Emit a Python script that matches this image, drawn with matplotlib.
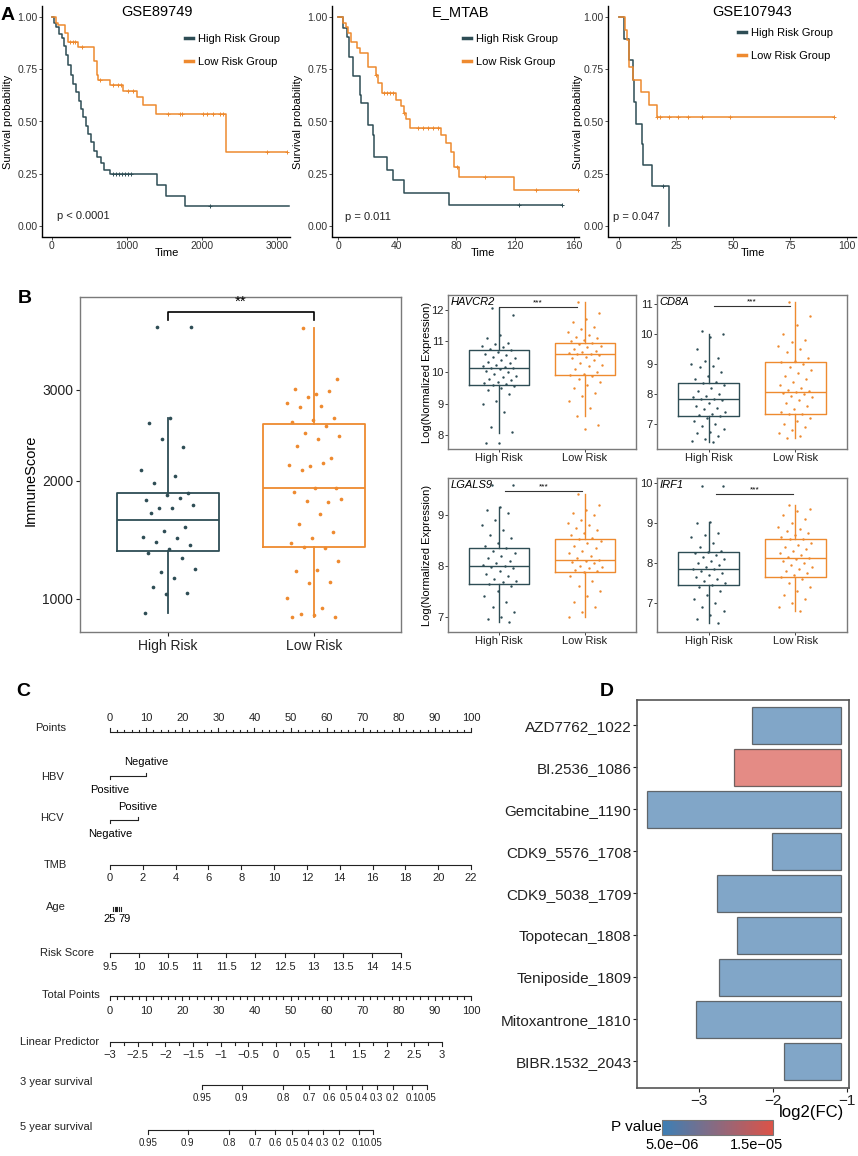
import numpy as np
import matplotlib
matplotlib.use("Agg")
import matplotlib.pyplot as plt
from matplotlib.colors import LinearSegmentedColormap, Normalize
from matplotlib.cm import ScalarMappable
from matplotlib.lines import Line2D

plt.rcParams['font.family'] = ['Liberation Sans', 'DejaVu Sans']

W, H = 858, 1156
TEAL = '#2E4D55'
ORANGE = '#EE8A2F'
INK = '#222222'
FRAME = '#7a7a7a'

# ---------------- panel A : Kaplan-Meier steps ----------------
gse89_hi_t = [0, 30, 60, 100, 130, 160, 190, 215, 250, 280, 320, 360, 390, 420, 450, 480,
              520, 560, 600, 650, 700, 780, 1400, 1520, 1773, 3160]
gse89_hi_s = [1.0, 0.97, 0.95, 0.92, 0.90, 0.86, 0.82, 0.77, 0.72, 0.68, 0.64, 0.60, 0.56, 0.52,
              0.48, 0.44, 0.40, 0.36, 0.33, 0.30, 0.27, 0.25, 0.196, 0.144, 0.096, 0.096]
gse89_hi_c = [820, 860, 900, 940, 980, 1020, 1060, 2107]
gse89_lo_t = [0, 50, 80, 173, 215, 350, 560, 595, 620, 773, 950, 1133, 1213, 1382, 2320, 3129]
gse89_lo_s = [1.0, 0.97, 0.96, 0.923, 0.88, 0.857, 0.79, 0.72, 0.70, 0.675, 0.647, 0.616,
              0.579, 0.536, 0.356, 0.356]
gse89_lo_c = [240, 280, 310, 400, 640, 818, 884, 916, 1018, 1084, 1551, 1707, 1729, 2017,
              2062, 2151, 2240, 2276, 2862, 3129]

emtab_hi_t = [0, 3.5, 6.3, 7.7, 10, 10.4, 15, 15.7, 20.2, 23.8, 24.3, 33, 37, 45, 75, 152]
emtab_hi_s = [1.0, 0.946, 0.903, 0.81, 0.766, 0.718, 0.627, 0.587, 0.483, 0.435, 0.33, 0.268,
              0.22, 0.158, 0.10, 0.10]
emtab_hi_c = [123, 152]
emtab_lo_t = [0, 3.5, 5.5, 7, 9, 12.6, 15, 20, 25.5, 27, 29.5, 39.5, 42.7, 44.5, 46, 48.5,
              69.5, 73.5, 76.5, 78.7, 82, 119, 163]
emtab_lo_s = [1.0, 0.97, 0.95, 0.922, 0.882, 0.85, 0.826, 0.762, 0.722, 0.683, 0.638, 0.603,
              0.574, 0.54, 0.51, 0.467, 0.435, 0.396, 0.356, 0.284, 0.233, 0.172, 0.172]
emtab_lo_c = [26, 31, 33, 35, 37, 45, 54, 57.6, 61, 64.4, 67.8, 81, 100, 134, 163]

gse107_hi_t = [0, 2.2, 4.5, 6, 6.6, 7.5, 10, 10.4, 14.3, 22]
gse107_hi_s = [1.0, 0.893, 0.794, 0.70, 0.595, 0.49, 0.39, 0.292, 0.19, 0.0]
gse107_hi_c = [19.3]
gse107_lo_t = [0, 2.6, 3.7, 4.5, 6, 9.5, 13.2, 16.8, 94.3]
gse107_lo_s = [1.0, 0.938, 0.89, 0.762, 0.70, 0.64, 0.579, 0.523, 0.523]
gse107_lo_c = [16.8, 18.2, 22, 26, 30.4, 36.3, 48.7, 94.3]

# ---------------- panel B : ImmuneScore ----------------
immune_hi = [3817, 3817, 2666, 2609, 2345, 2431, 2108, 2047, 1975, 1877, 1861, 1814, 1830,
             1737, 1767, 1742, 1696, 1571, 1536, 1484, 1475, 1442, 1414, 1381, 1351, 1305,
             1201, 1219, 1150, 1088, 1045, 1036, 902]
immune_lo = [3794, 3135, 2952, 3012, 2991, 2919, 2847, 2812, 2800, 2666, 2647, 2628, 2579,
             2497, 2471, 2435, 2362, 2234, 2152, 2158, 2176, 2108, 1932, 1926, 1893, 1792,
             1804, 1821, 1682, 1592, 1527, 1471, 1428, 1387, 1400, 1284, 1214, 1206, 1125,
             1118, 1005, 936, 898, 876, 891, 880]
# box stats: q1, median, q3, lower whisker, upper whisker
immune_box_hi = [1365, 1633, 1877, 902, 2666]
immune_box_lo = [1398, 1926, 2601, 876, 3794]

# ---------------- panel B : gene expression ----------------
havcr2_hi = [12.07, 11.85, 11.2, 11.1, 10.95, 10.9, 10.85, 10.8, 10.75, 10.71, 10.65, 10.6,
             10.55, 10.5, 10.45, 10.4, 10.35, 10.3, 10.25, 10.2, 10.18, 10.15, 10.14, 10.1,
             10.05, 10.0, 9.95, 9.9, 9.85, 9.8, 9.75, 9.7, 9.65, 9.62, 9.6, 9.58, 9.5, 9.45,
             9.3, 9.1, 9.0, 8.75, 8.27, 8.1, 7.75, 7.75]
havcr2_lo = [12.27, 11.9, 11.7, 11.6, 11.45, 11.4, 11.3, 11.2, 11.15, 11.1, 11.05, 11.0,
             10.95, 10.9, 10.85, 10.8, 10.75, 10.7, 10.65, 10.62, 10.6, 10.58, 10.55, 10.5,
             10.45, 10.4, 10.3, 10.25, 10.2, 10.1, 10.0, 9.95, 9.93, 9.9, 9.8, 9.7, 9.6, 9.5,
             9.35, 9.25, 9.1, 8.85, 8.61, 8.32, 8.2]
cd8a_hi = [10.1, 10.0, 9.9, 9.5, 9.2, 9.1, 9.0, 8.95, 8.9, 8.75, 8.6, 8.5, 8.4, 8.38, 8.3,
           8.2, 8.1, 8.0, 7.95, 7.9, 7.85, 7.82, 7.8, 7.7, 7.6, 7.55, 7.5, 7.4, 7.35, 7.3,
           7.27, 7.2, 7.1, 7.0, 6.95, 6.85, 6.75, 6.7, 6.6, 6.5, 6.45, 6.41]
cd8a_lo = [11.07, 10.6, 10.3, 10.0, 9.8, 9.75, 9.6, 9.5, 9.4, 9.2, 9.1, 9.08, 9.0, 8.9, 8.8,
           8.7, 8.6, 8.5, 8.4, 8.3, 8.2, 8.15, 8.1, 8.08, 8.05, 8.0, 7.95, 7.9, 7.8, 7.7,
           7.6, 7.5, 7.4, 7.35, 7.32, 7.2, 7.1, 7.0, 6.9, 6.8, 6.7, 6.6, 6.52]
lgals9_hi = [9.59, 9.59, 9.16, 9.1, 9.05, 8.9, 8.8, 8.7, 8.6, 8.55, 8.45, 8.4, 8.36, 8.3,
             8.25, 8.2, 8.15, 8.1, 8.05, 8.02, 8.0, 7.98, 7.95, 7.9, 7.85, 7.8, 7.75, 7.7,
             7.68, 7.65, 7.6, 7.5, 7.4, 7.3, 7.2, 7.1, 7.0, 6.95, 6.9]
lgals9_lo = [9.41, 9.2, 9.1, 9.05, 9.0, 8.9, 8.85, 8.8, 8.75, 8.7, 8.65, 8.6, 8.55, 8.52,
             8.5, 8.45, 8.4, 8.35, 8.3, 8.25, 8.2, 8.15, 8.12, 8.1, 8.08, 8.05, 8.0, 7.98,
             7.95, 7.92, 7.9, 7.88, 7.8, 7.7, 7.6, 7.5, 7.4, 7.3, 7.2, 7.1, 7.0]
irf1_hi = [9.92, 9.92, 9.03, 9.0, 8.75, 8.7, 8.65, 8.5, 8.4, 8.3, 8.27, 8.25, 8.2, 8.15,
           8.1, 8.05, 8.0, 7.95, 7.9, 7.85, 7.84, 7.8, 7.75, 7.7, 7.65, 7.6, 7.55, 7.5,
           7.45, 7.4, 7.3, 7.2, 7.1, 7.0, 6.9, 6.8, 6.7, 6.6, 6.5]
irf1_lo = [9.45, 9.35, 9.3, 9.2, 9.1, 9.0, 8.9, 8.85, 8.8, 8.75, 8.7, 8.65, 8.6, 8.59, 8.5,
           8.45, 8.4, 8.35, 8.3, 8.25, 8.2, 8.15, 8.12, 8.1, 8.05, 8.0, 7.95, 7.9, 7.85,
           7.8, 7.75, 7.7, 7.65, 7.6, 7.5, 7.4, 7.3, 7.2, 7.1, 7.0, 6.9, 6.8]
# q1, median, q3, lower whisker, upper whisker
havcr2_box = ([9.61, 10.14, 10.71, 8.06, 12.07], [9.93, 10.58, 10.95, 8.61, 12.27])
cd8a_box = ([7.27, 7.82, 8.38, 6.41, 10.0], [7.32, 8.08, 9.08, 6.52, 11.08])
lgals9_box = ([7.65, 8.0, 8.36, 6.9, 9.16], [7.88, 8.12, 8.52, 7.0, 9.41])
irf1_box = ([7.45, 7.84, 8.27, 6.5, 9.03], [7.65, 8.12, 8.59, 6.8, 9.45])

# ---------------- panel C : nomogram ----------------
points_ticks = list(range(0, 101, 10))
hbv_levels = ['Positive', 'Negative']
hbv_points = [0, 10]
hcv_levels = ['Negative', 'Positive']
hcv_points = [0, 7.8]
tmb_ticks = list(range(0, 23, 2))
tmb_pts_per_unit = 100 / 22
age_ticks = [25, 35, 45, 55, 65, 79]
age_pts_range = (0.9, 3.0)
risk_ticks = [9.5, 10, 10.5, 11, 11.5, 12, 12.5, 13, 13.5, 14, 14.5]
risk_pts_per_unit = 16.12
lp_ticks = [-3, -2.5, -2, -1.5, -1, -0.5, 0, 0.5, 1, 1.5, 2, 2.5, 3]
lp_pts_per_unit = 15.33
surv_ticks = [0.95, 0.9, 0.8, 0.7, 0.6, 0.5, 0.4, 0.3, 0.2, 0.1, 0.05]
cloglog_base_3y = -1.632
cloglog_base_5y = -0.657

# ---------------- panel D : drugs ----------------
drugs = ['AZD7762_1022', 'BI.2536_1086', 'Gemcitabine_1190', 'CDK9_5576_1708',
         'CDK9_5038_1709', 'Topotecan_1808', 'Teniposide_1809', 'Mitoxantrone_1810',
         'BIBR.1532_2043']
log2fc = [-2.28, -2.53, -3.70, -2.01, -2.76, -2.49, -2.73, -3.04, -1.85]
pvals = [4.6e-6, 1.65e-5, 4.6e-6, 4.6e-6, 4.6e-6, 4.6e-6, 4.6e-6, 4.6e-6, 4.6e-6]


fig = plt.figure(figsize=(W / 100, H / 100), dpi=100)


def px_axes(l, t, r, b):
    return fig.add_axes([l / W, 1 - b / H, (r - l) / W, (b - t) / H])


def ftext(x, y, s, **kw):
    kw.setdefault('ha', 'center')
    kw.setdefault('va', 'center')
    fig.text(x / W, 1 - y / H, s, **kw)


def jitter(n, w):
    return ((np.arange(n) * 0.6180339887 + 0.3) % 1.0 - 0.5) * 2 * w


# ---------- A ----------
def km_panel(box, xlim, xticks, hi, lo, ptxt, ppos, legpos):
    ax = px_axes(*box)
    for (t, s, c), col in ((hi, TEAL), (lo, ORANGE)):
        t = np.asarray(t, float)
        s = np.asarray(s, float)
        ax.step(t, s, where='post', color=col, lw=1.1)
        idx = np.searchsorted(t, c, side='right') - 1
        ax.plot(c, s[idx], ls='none', marker='+', ms=3.5, mew=0.7, color=col)
    ax.set_xlim(*xlim)
    ax.set_ylim(-0.05, 1.05)
    ax.set_xticks(xticks)
    ax.set_yticks([0, 0.25, 0.5, 0.75, 1.0])
    ax.set_yticklabels(['0.00', '0.25', '0.50', '0.75', '1.00'])
    for sp in ('top', 'right'):
        ax.spines[sp].set_visible(False)
    for sp in ('left', 'bottom'):
        ax.spines[sp].set_linewidth(1.0)
    ax.tick_params(labelsize=7.5, length=2, width=0.6, pad=1, colors='#333333')
    ax.text(ppos[0], ppos[1], ptxt, fontsize=8, ha='left', va='center', color=INK)
    hs = [Line2D([], [], color=TEAL, lw=2.5), Line2D([], [], color=ORANGE, lw=2.5)]
    ax.legend(hs, ['High Risk Group', 'Low Risk Group'], loc='upper left',
              bbox_to_anchor=(legpos[0] / W, 1 - legpos[1] / H),
              bbox_transform=fig.transFigure, frameon=False, fontsize=8,
              handlelength=0.7, handletextpad=0.5, labelspacing=1.2,
              borderpad=0, borderaxespad=0)
    return ax


km_panel((42, 6.5, 290, 236.5), (-133, 3173), [0, 1000, 2000, 3000],
         (gse89_hi_t, gse89_hi_s, gse89_hi_c), (gse89_lo_t, gse89_lo_s, gse89_lo_c),
         'p < 0.0001', (67, 0.048), (185, 34))
km_panel((332, 6.5, 579, 236.5), (-4.07, 163.4), [0, 40, 80, 120, 160],
         (emtab_hi_t, emtab_hi_s, emtab_hi_c), (emtab_lo_t, emtab_lo_s, emtab_lo_c),
         'p = 0.011', (5, 0.045), (463, 34))
km_panel((608, 6.5, 856, 236.5), (-4.8, 103.9), [0, 25, 50, 75, 100],
         (gse107_hi_t, gse107_hi_s, gse107_hi_c), (gse107_lo_t, gse107_lo_s, gse107_lo_c),
         'p = 0.047', (-2.5, 0.045), (738, 28))

for cx, title in ((157, 'GSE89749'), (460, 'E_MTAB'), (752, 'GSE107943')):
    ftext(cx, 12, title, fontsize=10.5)
for cx in (167, 483, 753):
    ftext(cx, 253, 'Time', fontsize=8)
for cx in (8, 298, 578):
    ftext(cx, 122, 'Survival probability', fontsize=8, rotation=90)
ftext(8, 15, 'A', fontsize=14, weight='bold')

# ---------- B : ImmuneScore ----------
def draw_boxes(ax, stats, width, lw):
    bx = []
    for q1, med, q3, lo, hi in stats:
        bx.append(dict(q1=q1, med=med, q3=q3, whislo=lo, whishi=hi, fliers=[]))
    art = ax.bxp(bx, positions=[1, 2], widths=width, showfliers=False, showcaps=False)
    for i, col in enumerate((TEAL, ORANGE)):
        art['boxes'][i].set(color=col, lw=lw)
        art['medians'][i].set(color=col, lw=lw)
        art['whiskers'][2 * i].set(color=col, lw=lw)
        art['whiskers'][2 * i + 1].set(color=col, lw=lw)


axb = px_axes(80, 297, 401, 632)
axb.set_yscale('function', functions=(np.sqrt, np.square))
draw_boxes(axb, [immune_box_hi, immune_box_lo], 0.7, 1.3)
for pos, vals, col in ((1, immune_hi, TEAL), (2, immune_lo, ORANGE)):
    axb.scatter(pos + jitter(len(vals), 0.19), vals, s=7, color=col, zorder=3, lw=0)
axb.set_xlim(0.397, 2.596)
axb.set_ylim(782, 4234)
axb.set_yticks([1000, 2000, 3000])
axb.set_yticklabels(['1000', '2000', '3000'])
axb.set_xticks([1, 2])
axb.set_xticklabels(['High Risk', 'Low Risk'])
axb.minorticks_off()
axb.tick_params(labelsize=10, length=3, width=0.8, colors='#222222', pad=2)
for sp in axb.spines.values():
    sp.set_color(FRAME)
    sp.set_linewidth(1.0)
tr = axb.get_xaxis_transform()
axb.plot([1, 1, 2, 2], [0.931, 0.955, 0.955, 0.931], transform=tr, color='black', lw=1.2)
axb.text(1.5, 0.985, '**', transform=tr, ha='center', va='center', fontsize=11)
ftext(31, 480, 'ImmuneScore', fontsize=10.5, rotation=90)
ftext(25, 298, 'B', fontsize=14, weight='bold')


# ---------- B : genes ----------
def gene_panel(box, gene, hi, lo, stats, ylim, yticks, bracket, ylabel):
    ax = px_axes(*box)
    draw_boxes(ax, stats, 0.7, 1.0)
    for pos, vals, col in ((1, hi, TEAL), (2, lo, ORANGE)):
        ax.scatter(pos + jitter(len(vals), 0.2), vals, s=3, color=col, zorder=3, lw=0)
    ax.set_xlim(0.407, 2.593)
    ax.set_ylim(*ylim)
    ax.set_yticks(yticks)
    ax.set_xticks([1, 2])
    ax.set_xticklabels(['High Risk', 'Low Risk'])
    ax.tick_params(labelsize=8, length=2, width=0.6, colors='#222222', pad=1)
    for sp in ax.spines.values():
        sp.set_color(FRAME)
        sp.set_linewidth(1.0)
    ax.text(0.015, 0.955, gene, transform=ax.transAxes, fontsize=8, style='italic',
            ha='left', va='center')
    tr = ax.get_xaxis_transform()
    x0, x1, yb = bracket
    ax.plot([x0, x1], [yb, yb], transform=tr, color='#333333', lw=0.8)
    ax.text((x0 + x1) / 2, yb + 0.025, '***', transform=tr, ha='center', va='center',
            fontsize=6)
    if ylabel:
        ftext(427, (box[1] + box[3]) / 2, 'Log(Normalized Expression)', fontsize=8,
              rotation=90)
    return ax


gene_panel((448, 295, 636, 449), 'HAVCR2', havcr2_hi, havcr2_lo, havcr2_box,
           (7.55, 12.48), [8, 9, 10, 11, 12], (1.0, 1.91, 0.924), True)
gene_panel((657, 295, 847, 449), 'CD8A', cd8a_hi, cd8a_lo, cd8a_box,
           (6.17, 11.3), [7, 8, 9, 10, 11], (1.06, 1.94, 0.93), False)
gene_panel((448, 478, 636, 632), 'LGALS9', lgals9_hi, lgals9_lo, lgals9_box,
           (6.7, 9.73), [7, 8, 9], (1.07, 1.97, 0.916), True)
gene_panel((657, 478, 847, 632), 'IRF1', irf1_hi, irf1_lo, irf1_box,
           (6.27, 10.12), [7, 8, 9, 10], (1.09, 1.97, 0.896), False)

# ---------- C : nomogram ----------
PX_PER_PT = 3.61
axc = px_axes(0, 680, 480, 1156)
axc.set_xlim(-110 / PX_PER_PT, 370 / PX_PER_PT)
axc.set_ylim(1156, 680)
axc.axis('off')


def nline(x0, x1, y):
    axc.plot([x0, x1], [y, y], color=INK, lw=0.8, solid_capstyle='butt')


def nticks(pos, y, ln):
    for p in pos:
        axc.plot([p, p], [y, y + ln], color=INK, lw=0.8)


def nlabels(pos, labels, y, fs=8):
    for p, lab in zip(pos, labels):
        axc.text(p, y, lab, ha='center', va='center', fontsize=fs, color=INK)


def fmt(v):
    return ('%g' % v).replace('-', '\u2212')


# Points
nline(0, 100, 732)
nticks(points_ticks, 732, -4)
nticks([p for p in range(0, 101, 2) if p % 10], 732, -2)
nlabels(points_ticks, [str(p) for p in points_ticks], 718)
# HBV
nline(hbv_points[0], hbv_points[1], 776)
nticks([hbv_points[0]], 776, 3)
nticks([hbv_points[1]], 776, -3)
axc.text(hbv_points[0], 790, hbv_levels[0], ha='center', va='center', fontsize=8)
axc.text(hbv_points[1], 762, hbv_levels[1], ha='center', va='center', fontsize=8)
# HCV
nline(hcv_points[0], hcv_points[1], 820)
nticks([hcv_points[0]], 820, 3)
nticks([hcv_points[1]], 820, -3)
axc.text(hcv_points[0], 834, hcv_levels[0], ha='center', va='center', fontsize=8)
axc.text(hcv_points[1], 807, hcv_levels[1], ha='center', va='center', fontsize=8)
# TMB
tmb_pos = [t * tmb_pts_per_unit for t in tmb_ticks]
nline(tmb_pos[0], tmb_pos[-1], 865)
nticks(tmb_pos, 865, 4)
nlabels(tmb_pos, [str(t) for t in tmb_ticks], 878)
# Age
a0, a1 = age_pts_range
age_pos = [a0 + (a - age_ticks[0]) / (age_ticks[-1] - age_ticks[0]) * (a1 - a0)
           for a in age_ticks]
nticks(age_pos, 911, -4)
axc.text(age_pos[0] + 0.6, 919, str(age_ticks[0]), ha='right', va='center', fontsize=8)
axc.text(age_pos[-1] - 0.6, 919, str(age_ticks[-1]), ha='left', va='center', fontsize=8)
# Risk score
risk_pos = [(r - risk_ticks[0]) * risk_pts_per_unit for r in risk_ticks]
nline(risk_pos[0], risk_pos[-1], 953)
nticks(risk_pos, 953, 4)
nlabels(risk_pos, [fmt(r) for r in risk_ticks], 967)
# Total points
nline(0, 100, 996)
nticks(points_ticks, 996, 4)
nticks([p for p in range(0, 101, 2) if p % 10], 996, 3)
nlabels(points_ticks, [str(p) for p in points_ticks], 1011)
# Linear predictor
lp_pos = [(v + 3) * lp_pts_per_unit for v in lp_ticks]
nline(lp_pos[0], lp_pos[-1], 1042)
nticks(lp_pos, 1042, 4)
nticks([(v + 3.25) * lp_pts_per_unit for v in lp_ticks[:-1]], 1042, 3)
nlabels(lp_pos, [fmt(v) for v in lp_ticks], 1055)
# survival scales
for base, y in ((cloglog_base_3y, 1085), (cloglog_base_5y, 1130)):
    pos = [(np.log(-np.log(s)) - base + 3) * lp_pts_per_unit for s in surv_ticks]
    nline(pos[0], pos[-1], y)
    nticks(pos, y, 4)
    nlabels(pos, [fmt(s) for s in surv_ticks], y + 13, fs=7)

for cx, y, name in ((51, 728, 'Points'), (52, 777, 'HBV'), (52, 818, 'HCV'),
                    (55, 865, 'TMB'), (56, 907, 'Age'), (67, 953, 'Risk Score'),
                    (71, 995, 'Total Points'), (60, 1042, 'Linear Predictor'),
                    (56, 1082, '3 year survival'), (56, 1127, '5 year survival')):
    ftext(cx, y, name, fontsize=8, color=INK)
ftext(23, 691, 'C', fontsize=14, weight='bold')

# ---------- D : drug bars ----------
cmap = LinearSegmentedColormap.from_list('pv', ['#3C7FB5', '#DC5348'])
norm = Normalize(vmin=3.8e-6, vmax=1.69e-5)
axd = px_axes(637, 700, 849, 1088)
bar_end = -1.08
ypos = np.arange(len(drugs))
axd.barh(ypos, np.array(log2fc) - bar_end, left=bar_end, height=0.88,
         color=[cmap(norm(p)) for p in pvals], alpha=0.68, edgecolor='#333333', lw=0.9)
axd.set_xlim(-3.84, -0.97)
axd.set_ylim(len(drugs) - 0.36, -0.6)
axd.set_yticks(ypos)
axd.set_yticklabels(drugs)
axd.set_xticks([-3, -2, -1])
axd.set_xticklabels(['\u22123', '\u22122', '\u22121'])
axd.tick_params(labelsize=11, length=3, width=0.8, colors='#222222', pad=1)
for sp in axd.spines.values():
    sp.set_color('#555555')
    sp.set_linewidth(1.2)
ftext(812, 1113, 'log2(FC)', fontsize=12)
ftext(607, 691, 'D', fontsize=14, weight='bold')

cax = px_axes(662, 1120, 773, 1135)
cb = fig.colorbar(ScalarMappable(norm=norm, cmap=cmap), cax=cax, orientation='horizontal',
                  ticks=[5e-6, 1.5e-5])
cb.ax.set_xticklabels(['5.0e\u221206', '1.5e\u221205'])
cb.ax.tick_params(labelsize=10.5, length=0, pad=2)
cb.outline.set_edgecolor('#777777')
ftext(611, 1127, 'P value', fontsize=11, ha='left')

fig.savefig('out.png', dpi=100)
